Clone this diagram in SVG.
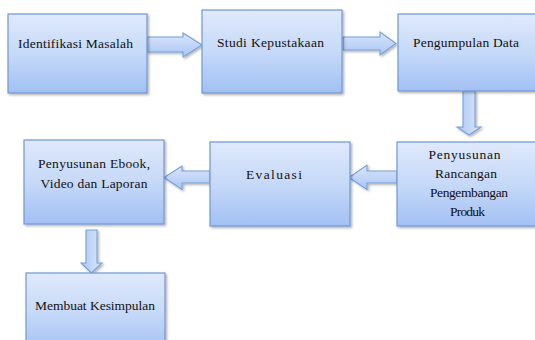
<svg xmlns="http://www.w3.org/2000/svg" width="535" height="340" viewBox="0 0 535 340">
<defs>
<linearGradient id="gb" x1="0" y1="0" x2="0" y2="1">
<stop offset="0" stop-color="#dfe9fb"/>
<stop offset="0.5" stop-color="#c6d9f8"/>
<stop offset="1" stop-color="#a2c0f3"/>
</linearGradient>
<linearGradient id="gh" x1="0" y1="0" x2="0" y2="1">
<stop offset="0" stop-color="#dae6fb"/>
<stop offset="1" stop-color="#a9c5f4"/>
</linearGradient>
<linearGradient id="gv" x1="0" y1="0" x2="1" y2="0">
<stop offset="0" stop-color="#a9c5f4"/>
<stop offset="1" stop-color="#dce8fb"/>
</linearGradient>
<filter id="sh" x="-10%" y="-10%" width="130%" height="130%">
<feDropShadow dx="1.5" dy="1.5" stdDeviation="1" flood-color="#000" flood-opacity="0.3"/>
</filter>
<style>
.box{fill:url(#gb);stroke:#6f98d6;stroke-width:1.2;filter:url(#sh)}
.ah{fill:url(#gh);stroke:#779fda;stroke-width:1.1;filter:url(#sh)}
.av{fill:url(#gv);stroke:#779fda;stroke-width:1.1;filter:url(#sh)}
.t{font-family:'Liberation Serif','DejaVu Serif','Times New Roman',serif;font-size:13.5px;fill:#111;text-anchor:middle}
</style>
</defs>
<g id="connectors">
<path class="ah" d="M147,37 H183 V33 L202,45 L183,57 V52 H147 Z"/>
<path class="ah" d="M343,37 H380 V32 L396,43.5 L380,55 V50 H343 Z"/>
<path class="av" d="M463,91 V127 H457 L469,135 L481,127 H475 V91 Z"/>
<path class="ah" d="M397,171 H367 V165 L349,177.5 L367,189.5 V183 H397 Z"/>
<path class="ah" d="M210,171 H182 V166 L164,177.5 L182,189.5 V183 H210 Z"/>
<path class="av" d="M86,230 V263 H81 L91.5,273 L102,263 H97 V230 Z"/>
</g>
<g id="n1">
<rect class="box" x="8" y="14" width="139" height="79"/>
<text class="t" x="75.5" y="48" textLength="115" lengthAdjust="spacing">Identifikasi Masalah</text>
</g>
<g id="n2">
<rect class="box" x="202" y="10" width="140" height="83"/>
<text class="t" x="270.5" y="47" textLength="107" lengthAdjust="spacing">Studi Kepustakaan</text>
</g>
<g id="n3">
<rect class="box" x="398" y="14" width="150" height="77"/>
<text class="t" x="466" y="47" textLength="106" lengthAdjust="spacing">Pengumpulan Data</text>
</g>
<g id="n4">
<rect class="box" x="397" y="142" width="150" height="84"/>
<text class="t" x="464.5" y="158.5" textLength="72" lengthAdjust="spacing">Penyusunan</text>
<text class="t" x="466" y="177.5" textLength="62" lengthAdjust="spacing">Rancangan</text>
<text class="t" x="469" y="196.5" textLength="78" lengthAdjust="spacing">Pengembangan</text>
<text class="t" x="467.5" y="215.5" textLength="35" lengthAdjust="spacing">Produk</text>
</g>
<g id="n5">
<rect class="box" x="210" y="142" width="140" height="84"/>
<text class="t" x="274" y="179" textLength="56" lengthAdjust="spacing">Evaluasi</text>
</g>
<g id="n6">
<rect class="box" x="24" y="140" width="140" height="84"/>
<text class="t" x="94" y="167.5" textLength="112" lengthAdjust="spacing">Penyusunan Ebook,</text>
<text class="t" x="94" y="187.5" textLength="107" lengthAdjust="spacing">Video dan Laporan</text>
</g>
<g id="n7">
<rect class="box" x="26" y="273" width="139" height="80"/>
<text class="t" x="95" y="310" textLength="120" lengthAdjust="spacing">Membuat Kesimpulan</text>
</g>
</svg>
